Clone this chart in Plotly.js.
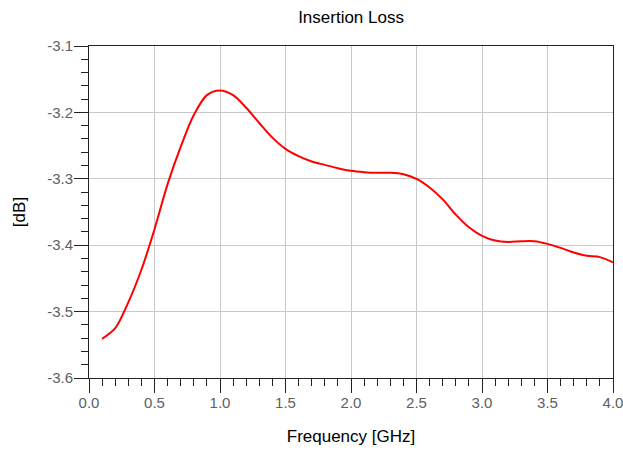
<!DOCTYPE html>
<html>
<head>
<meta charset="utf-8">
<script src="https://cdn.plot.ly/plotly-3.0.1.min.js"></script>
<style>html,body{margin:0;padding:0;background:#fff;}#chart{width:623px;height:454px;}</style>
</head>
<body>
<div id="chart"></div>
<script>
const freqGHz = [0.1,0.2,0.3,0.4,0.5,0.6,0.7,0.8,0.9,1.0,1.1,1.2,1.3,1.4,1.5,1.6,1.7,1.8,1.9,2.0,2.1,2.2,2.3,2.4,2.5,2.6,2.7,2.8,2.9,3.0,3.1,3.2,3.3,3.4,3.5,3.6,3.7,3.8,3.9,4.0];
const lossDb = [-3.541,-3.525,-3.486,-3.437,-3.376,-3.308,-3.252,-3.204,-3.174,-3.167,-3.174,-3.193,-3.216,-3.238,-3.255,-3.266,-3.274,-3.279,-3.284,-3.288,-3.290,-3.291,-3.291,-3.293,-3.300,-3.313,-3.331,-3.354,-3.373,-3.386,-3.393,-3.395,-3.394,-3.394,-3.398,-3.404,-3.411,-3.416,-3.418,-3.426];
const xTickVals = [0,0.5,1,1.5,2,2.5,3,3.5,4];
const xTickText = ["0.0","0.5","1.0","1.5","2.0","2.5","3.0","3.5","4.0"];
const yTickVals = [-3.6,-3.5,-3.4,-3.3,-3.2,-3.1];
const yTickText = ["-3.6","-3.5","-3.4","-3.3","-3.2","-3.1"];

const FONT = "Liberation Sans, Arial, sans-serif";
const trace = {
  x: freqGHz, y: lossDb, type: 'scatter', mode: 'lines',
  line: {color: '#ff0000', width: 2, shape: 'spline', smoothing: 0.9},
  hoverinfo: 'skip'
};
const layout = {
  width: 623, height: 454,
  margin: {l: 89, r: 10, t: 46, b: 76, pad: 0},
  paper_bgcolor: '#ffffff', plot_bgcolor: '#ffffff',
  showlegend: false,
  title: {text: 'Insertion Loss', font: {family: FONT, size: 17, color: '#000'}, x: 0.5635, xanchor: 'center', y: 0.962, yanchor: 'middle'},
  xaxis: {
    range: [0, 4.00001], tickmode: 'array', tickvals: xTickVals, ticktext: xTickText,
    ticks: 'outside', ticklen: 14, tickwidth: 1, tickcolor: '#222',
    minor: {dtick: 0.1, tick0: 0, ticks: 'outside', ticklen: 7, tickwidth: 1, tickcolor: '#222', showgrid: false},
    showgrid: true, gridcolor: '#c8c8c8', gridwidth: 1,
    showline: true, linecolor: '#222', linewidth: 1, mirror: true,
    zeroline: false, ticklabeloverflow: 'allow', ticklabelstandoff: -3,
    tickfont: {family: FONT, size: 15, color: '#606060'},
    title: {text: 'Frequency [GHz]', font: {family: FONT, size: 17, color: '#000'}, standoff: 20}
  },
  yaxis: {
    range: [-3.6, -3.1], tickmode: 'array', tickvals: yTickVals, ticktext: yTickText,
    ticks: 'outside', ticklen: 14, tickwidth: 1, tickcolor: '#222',
    minor: {dtick: 0.02, tick0: -3.6, ticks: 'outside', ticklen: 7, tickwidth: 1, tickcolor: '#222', showgrid: false},
    showgrid: true, gridcolor: '#c8c8c8', gridwidth: 1,
    showline: true, linecolor: '#222', linewidth: 1, mirror: true,
    zeroline: false, ticklabelstandoff: -2,
    tickfont: {family: FONT, size: 15, color: '#606060'},
    title: {text: '[dB]', font: {family: FONT, size: 17, color: '#000'}, standoff: 17}
  }
};
Plotly.newPlot('chart', [trace], layout, {staticPlot: true, displayModeBar: false});
</script>
</body>
</html>
